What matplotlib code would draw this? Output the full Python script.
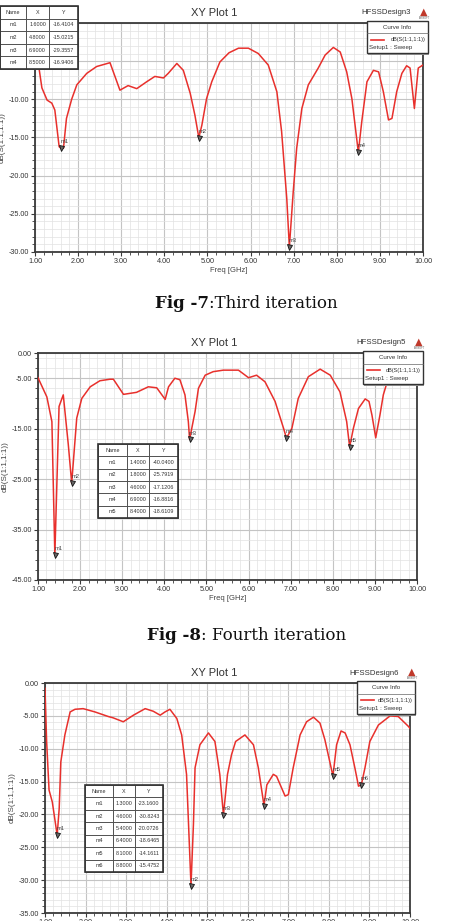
"""Return-loss plots (HFSS XY Plot 1) for the third, fourth and fifth iterations, stacked as in the paper."""
import matplotlib
matplotlib.use("Agg")
import matplotlib.pyplot as plt
from matplotlib.patches import Rectangle
from matplotlib.lines import Line2D
from matplotlib.ticker import FixedLocator, MultipleLocator, FormatStrFormatter

W, H = 475, 921

# ---- data: third iteration (Fig -7) ----
freq_3 = [1.0, 1.09, 1.16, 1.28, 1.39, 1.46, 1.56, 1.6, 1.66, 1.73, 1.85, 1.97, 2.2, 2.43, 2.74,
          2.97, 3.16, 3.36, 3.59, 3.78, 3.98, 4.09, 4.29, 4.44, 4.6, 4.71, 4.8, 4.87, 4.98, 5.1,
          5.29, 5.5, 5.72, 5.95, 6.18, 6.41, 6.61, 6.72, 6.84, 6.9, 6.99, 7.07, 7.19, 7.34, 7.57,
          7.73, 7.92, 8.08, 8.23, 8.35, 8.5, 8.58, 8.7, 8.85, 8.97, 9.08, 9.2, 9.28, 9.39, 9.51,
          9.62, 9.7, 9.8, 9.89, 10.0]
s11_3 = [-4.0, -5.8, -8.5, -10.1, -10.5, -11.4, -16.2, -16.41, -16.4, -12.5, -10.0, -8.1, -6.6,
         -5.7, -5.2, -8.8, -8.2, -8.6, -7.7, -7.0, -7.2, -6.6, -5.3, -6.2, -9.2, -12.1, -15.02,
         -13.4, -9.9, -7.7, -5.1, -3.9, -3.3, -3.3, -4.0, -5.5, -9.0, -14.2, -23.0, -29.36, -22.1,
         -16.4, -11.2, -8.1, -5.9, -4.2, -3.2, -3.8, -6.4, -9.9, -16.94, -12.9, -7.7, -6.2, -6.4,
         -9.0, -12.7, -12.5, -9.0, -6.6, -5.6, -5.9, -11.2, -5.9, -5.5]
mk_names_3 = ["m1", "m2", "m3", "m4"]
mk_x_3 = [1.6, 4.8, 6.9, 8.5]
mk_y_3 = [-16.4104, -15.0215, -29.3557, -16.9406]

# ---- data: fourth iteration (Fig -8) ----
freq_4 = [1.0, 1.21, 1.33, 1.4, 1.5, 1.6, 1.72, 1.8, 1.92, 2.04, 2.24, 2.47, 2.71, 2.79, 2.91,
          3.03, 3.34, 3.62, 3.82, 4.02, 4.1, 4.25, 4.37, 4.49, 4.57, 4.6, 4.73, 4.81, 4.97, 5.16,
          5.4, 5.76, 6.0, 6.19, 6.39, 6.63, 6.83, 6.9, 7.03, 7.18, 7.42, 7.7, 7.94, 8.17, 8.33,
          8.4, 8.49, 8.61, 8.77, 8.86, 8.93, 9.02, 9.12, 9.2, 9.3, 9.5, 9.8, 10.0]
s11_4 = [-4.9, -8.7, -13.6, -40.04, -10.6, -8.3, -18.2, -25.79, -12.9, -9.0, -6.7, -5.5, -5.2,
         -5.2, -6.7, -8.2, -7.8, -6.7, -6.9, -9.2, -6.7, -5.0, -5.3, -8.3, -13.6, -17.12, -11.6,
         -7.0, -4.4, -3.7, -3.4, -3.4, -4.9, -4.4, -5.7, -9.6, -14.9, -16.88, -14.9, -9.0, -4.7,
         -3.2, -4.4, -7.7, -13.6, -18.61, -14.9, -11.0, -9.1, -9.6, -12.3, -16.8, -12.3, -8.3,
         -5.5, -4.0, -4.0, -6.2]
mk_names_4 = ["m1", "m2", "m3", "m4", "m5"]
mk_x_4 = [1.4, 1.8, 4.6, 6.9, 8.4]
mk_y_4 = [-40.0400, -25.7919, -17.1206, -16.8816, -18.6109]

# ---- data: fifth iteration ----
freq_5 = [1.0, 1.04, 1.1, 1.18, 1.3, 1.35, 1.39, 1.49, 1.62, 1.74, 1.94, 2.23, 2.56, 2.68, 2.93,
          3.18, 3.47, 3.67, 3.84, 3.96, 4.08, 4.25, 4.37, 4.49, 4.6, 4.66, 4.7, 4.82, 5.03, 5.19,
          5.31, 5.4, 5.5, 5.6, 5.7, 5.93, 6.14, 6.26, 6.4, 6.47, 6.63, 6.71, 6.92, 7.0, 7.12,
          7.29, 7.45, 7.62, 7.78, 7.9, 8.03, 8.1, 8.19, 8.3, 8.4, 8.52, 8.64, 8.73, 8.8, 8.89,
          9.01, 9.22, 9.51, 9.71, 9.96, 10.0]
s11_5 = [-0.8, -8.9, -16.3, -18.1, -23.16, -19.1, -12.0, -7.9, -4.4, -4.0, -3.9, -4.4, -5.1,
         -5.3, -5.9, -4.9, -3.9, -4.3, -4.9, -4.4, -4.0, -5.4, -7.9, -13.9, -30.82, -21.5, -12.9,
         -9.4, -7.6, -8.9, -13.9, -20.07, -13.9, -10.9, -8.9, -7.9, -9.4, -12.9, -18.65, -15.5,
         -13.9, -14.2, -17.2, -17.0, -12.9, -7.9, -5.9, -5.2, -6.1, -8.6, -12.2, -14.16, -9.4,
         -7.3, -7.6, -9.4, -12.9, -15.7, -15.48, -12.9, -8.9, -6.4, -5.0, -5.1, -6.6, -6.9]
mk_names_5 = ["m1", "m2", "m3", "m4", "m5", "m6"]
mk_x_5 = [1.3, 4.6, 5.4, 6.4, 8.1, 8.8]
mk_y_5 = [-23.1600, -30.8243, -20.0726, -18.6465, -14.1611, -15.4752]

SANS = ["Liberation Sans", "DejaVu Sans"]
SERIF = ["DejaVu Serif"]
RED = "#e8302c"
DARK = "#3a3a3a"


def fx(x):
    return x / W


def fy(y):
    return 1 - y / H


def panel(fig, box, freq, s11, names, mx, my, yticks, ylim, yminor, design,
          table_box, table_cols, legend_box, title_y, logo_x):
    x0, y0, x1, y1 = box
    ax = fig.add_axes([fx(x0), fy(y1), (x1 - x0) / W, (y1 - y0) / H])
    ax.plot(freq, s11, color=RED, lw=1.1, zorder=3)
    ax.plot(mx, my, "v", ms=3.6, mfc="#666", mec="#111", mew=0.6, zorder=4)
    for n, a, b in zip(names, mx, my):
        ax.annotate(n, (a, b), xytext=(2.5, 3.5), textcoords="offset points",
                    fontsize=4.2, color="#444", ha="center", family=SANS, zorder=4)
    ax.set_xlim(1, 10)
    ax.set_ylim(*ylim)
    ax.xaxis.set_major_locator(MultipleLocator(1))
    ax.xaxis.set_minor_locator(MultipleLocator(0.2))
    ax.yaxis.set_major_locator(FixedLocator(yticks))
    ax.yaxis.set_minor_locator(FixedLocator(yminor))
    ax.xaxis.set_major_formatter(FormatStrFormatter("%.2f"))
    ax.yaxis.set_major_formatter(FormatStrFormatter("%.2f"))
    ax.grid(which="major", color="#c4c4c4", lw=0.8)
    ax.grid(which="minor", color="#e2e2e2", lw=0.5)
    ax.set_axisbelow(True)
    for sp in ax.spines.values():
        sp.set_color(DARK)
        sp.set_linewidth(1.3)
    ax.tick_params(which="major", direction="out", length=3, width=0.8, color=DARK,
                   labelsize=5.2, labelcolor="#333", pad=1.5)
    ax.tick_params(which="minor", direction="out", length=2, width=0.6, color=DARK)
    for lab in ax.get_xticklabels() + ax.get_yticklabels():
        lab.set_family(SANS)
    ax.set_xlabel("Freq [GHz]", fontsize=5.5, color="#444", family=SANS, labelpad=1)
    ax.set_ylabel("dB(S(1:1,1:1))", fontsize=5.8, color="#444", family=SANS, labelpad=2)

    # titles
    fig.text(fx(214), fy(title_y), "XY Plot 1", fontsize=8, color="#333", family=SANS,
             ha="center", va="center")
    fig.text(fx(logo_x - 13), fy(title_y), design, fontsize=5.6, color="#333", family=SANS,
             ha="right", va="center")
    fig.text(fx(logo_x), fy(title_y - 1), "\u25b2", fontsize=7, color="#c0392b",
             family=["DejaVu Sans"], ha="center", va="center")
    fig.text(fx(logo_x), fy(title_y + 5), "ANSOFT", fontsize=1.8, color="#555",
             family=SANS, ha="center", va="center")

    # marker table
    tx0, ty0, tx1, ty1 = table_box
    tax = fig.add_axes([fx(tx0), fy(ty1), (tx1 - tx0) / W, (ty1 - ty0) / H], zorder=5)
    tax.axis("off")
    rows = [[n, f"{a:.4f}", f"{b:.4f}"] for n, a, b in zip(names, mx, my)]
    tot = sum(table_cols)
    tbl = tax.table(cellText=rows, colLabels=["Name", "X", "Y"], bbox=[0, 0, 1, 1],
                    colWidths=[c / tot for c in table_cols], cellLoc="center")
    tbl.auto_set_font_size(False)
    for cell in tbl.get_celld().values():
        cell.set_edgecolor("#444")
        cell.set_linewidth(0.6)
        cell.set_facecolor("white")
        cell.get_text().set_fontsize(3.9)
        cell.get_text().set_color("#333")
        cell.get_text().set_family(SANS)
    tax.add_patch(Rectangle((0, 0), 1, 1, transform=tax.transAxes, fill=False,
                            ec="#333", lw=1.2, zorder=10, clip_on=False))

    # curve info box
    lx0, ly0, lx1, ly1 = legend_box
    fig.patches.append(Rectangle((fx(lx0) + 0.003, fy(ly1) - 0.002), (lx1 - lx0) / W,
                                 (ly1 - ly0) / H, transform=fig.transFigure,
                                 fc="#999", ec="none", zorder=6))
    fig.patches.append(Rectangle((fx(lx0), fy(ly1)), (lx1 - lx0) / W, (ly1 - ly0) / H,
                                 transform=fig.transFigure, fc="white", ec="#333",
                                 lw=1.0, zorder=7))
    hh = ly1 - ly0
    fig.text(fx((lx0 + lx1) / 2), fy(ly0 + hh * 0.2), "Curve Info", fontsize=4.4,
             color="#333", family=SANS, ha="center", va="center", zorder=8)
    fig.lines.append(Line2D([fx(lx0), fx(lx1)], [fy(ly0 + hh * 0.38)] * 2,
                            transform=fig.transFigure, color="#666", lw=0.5, zorder=8))
    fig.lines.append(Line2D([fx(lx0 + 4), fx(lx0 + 17)], [fy(ly0 + hh * 0.58)] * 2,
                            transform=fig.transFigure, color=RED, lw=1.2, zorder=8))
    fig.text(fx(lx1 - 2), fy(ly0 + hh * 0.58), "dB(S(1:1,1:1))", fontsize=4.0,
             color="#333", family=SANS, ha="right", va="center", zorder=8)
    fig.text(fx(lx0 + 2), fy(ly0 + hh * 0.83), "Setup1 : Sweep", fontsize=4.4,
             color="#333", family=SANS, ha="left", va="center", zorder=8)
    return ax


def caption(fig, y, split_x, bold, rest):
    fig.text(fx(split_x), fy(y), bold, fontsize=12, fontweight="bold", family=SERIF,
             ha="right", va="center", color="#111")
    fig.text(fx(split_x), fy(y), rest, fontsize=12, family=SERIF,
             ha="left", va="center", color="#111")


fig = plt.figure(figsize=(W / 100, H / 100), dpi=100)
fig.patch.set_facecolor("white")

panel(fig, (35, 23, 423, 252), freq_3, s11_3, mk_names_3, mk_x_3, mk_y_3,
      yticks=[0, -5, -10, -15, -20, -25, -30], ylim=(-30, 0),
      yminor=list(range(-30, 1)), design="HFSSDesign3",
      table_box=(0, 6, 78, 69), table_cols=[26, 23, 29],
      legend_box=(367, 21, 428, 53), title_y=13, logo_x=424)
caption(fig, 304, 209, "Fig -7", ":Third iteration")

panel(fig, (38, 353, 417, 580), freq_4, s11_4, mk_names_4, mk_x_4, mk_y_4,
      yticks=[0, -5, -15, -25, -35, -45], ylim=(-45, 0),
      yminor=list(range(-45, 0, 2)), design="HFSSDesign5",
      table_box=(98, 444, 178, 518), table_cols=[29, 22, 29],
      legend_box=(363, 351, 423, 384), title_y=343, logo_x=419)
caption(fig, 635, 201, "Fig -8", ": Fourth iteration")

panel(fig, (45, 683, 410, 913), freq_5, s11_5, mk_names_5, mk_x_5, mk_y_5,
      yticks=[0, -5, -10, -15, -20, -25, -30, -35], ylim=(-35, 0),
      yminor=list(range(-35, 1)), design="HFSSDesign6",
      table_box=(85, 785, 163, 872), table_cols=[28, 22, 28],
      legend_box=(357, 681, 415, 714), title_y=673, logo_x=412)

fig.savefig("out.png", dpi=100)
